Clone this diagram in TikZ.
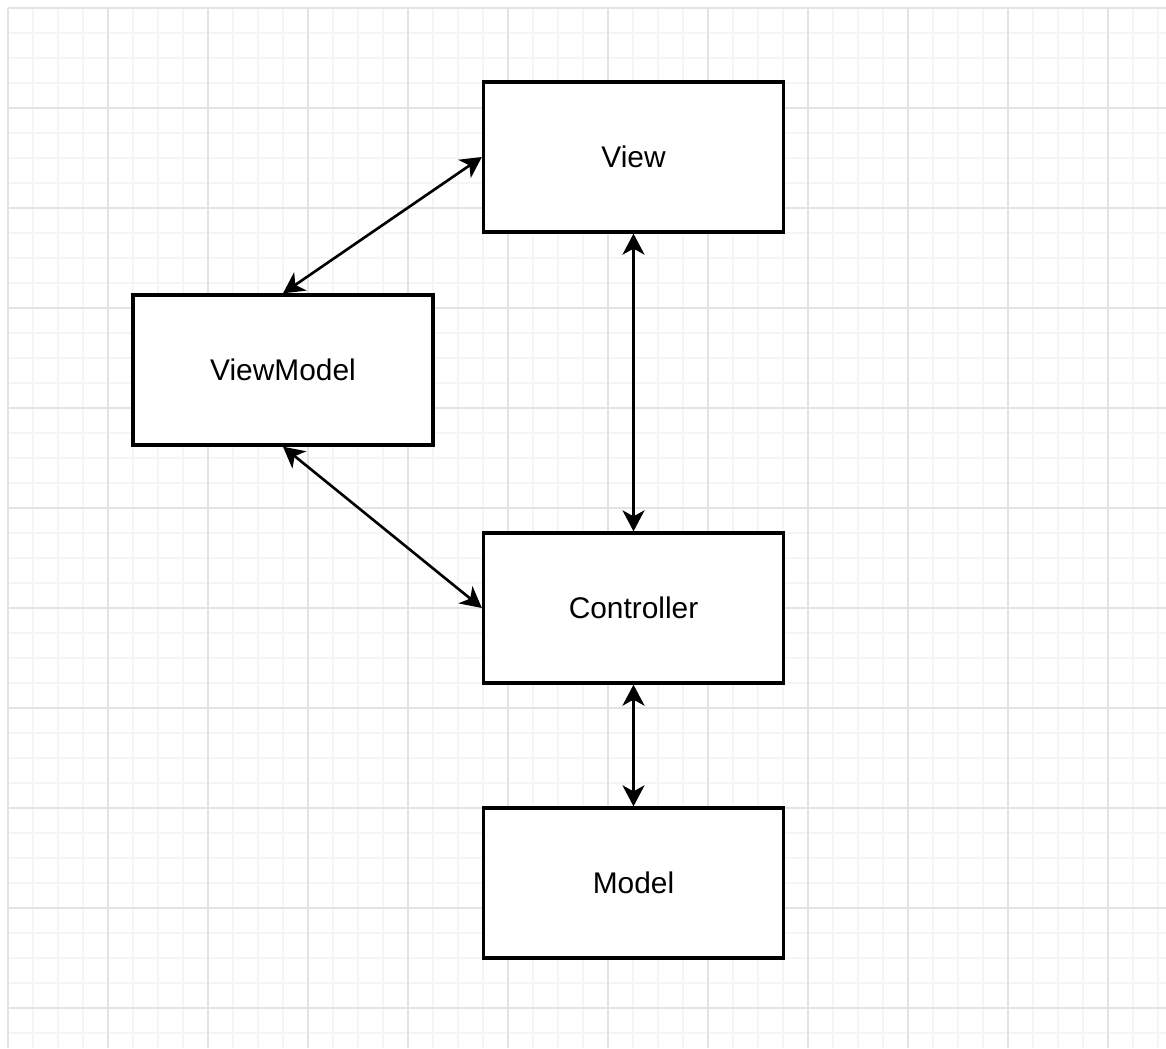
\documentclass[tikz,border=0pt]{standalone}
\usepackage{fontspec}
\setmainfont{Liberation Sans}
\usetikzlibrary{positioning, arrows.meta}
\colorlet{minor line}{black!4}
\colorlet{major line}{black!11}
\tikzset{minorgrid/.style={minor line, line width=1pt}}
\tikzset{majorgrid/.style={major line, line width=1.1pt}}
\tikzset{block/.style={draw, line width=1.9pt, fill=white, minimum width=6cm, minimum height=3cm, font=\fontsize{17}{20}\selectfont}}
\tikzset{link/.style={line width=1.5pt, {Stealth[length=0.42cm, width=0.44cm, inset=0.12cm]}-{Stealth[length=0.42cm, width=0.44cm, inset=0.12cm]}}}

\begin{document}
\begin{tikzpicture}[x=0.02cm, y=-0.02cm]
                \useasboundingbox[fill=white] (0, 0) rectangle (1166, 1048);
                \foreach \x in {8, 33, ..., 1166} {
                    \draw[minorgrid] (\x, 8) -- (\x, 1048);
                }
                \foreach \y in {8, 33, ..., 1048} {
                    \draw[minorgrid] (8, \y) -- (1166, \y);
                }
                \foreach \x in {8, 108, ..., 1166} {
                    \draw[majorgrid] (\x, 8) -- (\x, 1048);
                }
                \foreach \y in {8, 108, ..., 1048} {
                    \draw[majorgrid] (8, \y) -- (1166, \y);
                }
                
                \node[block] (view) at (633.5, 157) {View};
                \node[block] (viewmodel) at (283, 370) {ViewModel};
                \node[block] (controller) at (633.5, 608) {Controller};
                \node[block] (model) at (633.5, 883) {Model};
                
                \draw[link] (viewmodel.north) -- (view.west);
                \draw[link] (viewmodel.south) -- (controller.west);
                \draw[link] (view.south) -- (controller.north);
                \draw[link] (controller.south) -- (model.north);
            \end{tikzpicture}
\end{document}
